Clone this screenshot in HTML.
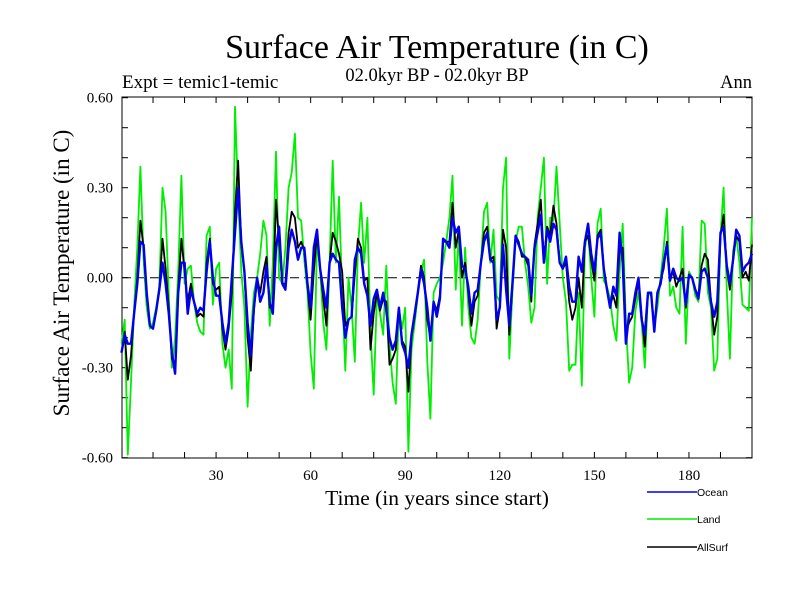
<!DOCTYPE html>
<html><head><meta charset="utf-8"><style>
body{margin:0;background:#fff;}
svg{display:block;font-family:"Liberation Serif",serif;}
</style></head><body>
<svg id="chart" width="800" height="600">
<rect width="800" height="600" fill="#fff"/>
<text x="437" y="58" font-size="34" text-anchor="middle">Surface Air Temperature (in C)</text>
<text x="122" y="88" font-size="19">Expt = temic1-temic</text>
<text x="437" y="81" font-size="18.5" text-anchor="middle">02.0kyr BP - 02.0kyr BP</text>
<text x="752" y="88" font-size="18.5" text-anchor="end">Ann</text>
<text transform="translate(69,273) rotate(-90)" font-size="23" text-anchor="middle">Surface Air Temperature (in C)</text>
<text x="437" y="505" font-size="21.5" text-anchor="middle">Time (in years since start)</text>
<g id="axes"></g>
<g id="series"></g>
<g id="legend"></g>
</svg>
<script>
const years = Array.from({length:201},(_, i)=>i);
const ocean = [-0.25,-0.19,-0.22,-0.22,-0.12,-0.02,0.12,0.11,-0.05,-0.16,-0.17,-0.11,-0.04,0.05,-0.02,-0.12,-0.25,-0.32,-0.05,0.05,0.05,-0.12,-0.04,-0.08,-0.12,-0.10,-0.11,0.02,0.12,0.0,-0.06,-0.06,-0.15,-0.22,-0.15,0.0,0.15,0.30,0.12,0.02,-0.15,-0.26,-0.10,0.0,-0.08,-0.05,0.04,-0.08,-0.12,0.10,0.17,
-0.02,-0.04,0.10,0.16,0.12,0.06,0.10,0.10,-0.02,-0.10,0.10,0.16,0.03,-0.04,-0.10,0.05,0.08,0.06,0.05,-0.10,-0.20,-0.14,-0.13,0.06,0.10,0.08,-0.02,-0.06,-0.16,-0.07,-0.04,-0.10,-0.05,-0.11,-0.20,-0.24,-0.21,-0.10,-0.22,-0.25,-0.30,-0.19,-0.12,-0.05,0.03,-0.02,-0.10,-0.21,-0.08,-0.13,-0.07,0.13,
0.12,0.10,0.20,0.15,0.17,0.04,0.03,-0.03,-0.12,-0.05,-0.04,0.05,0.12,0.15,0.06,0.05,-0.14,-0.10,0.11,-0.04,-0.16,-0.02,0.14,0.11,0.08,0.07,0.06,-0.06,0.10,0.15,0.21,0.05,0.16,0.12,0.18,0.16,0.05,0.03,0.07,-0.03,-0.08,-0.08,0.07,0.02,0.12,0.18,0.08,0.02,0.13,0.15,0.03,
-0.04,-0.10,-0.03,-0.06,0.15,0.05,-0.22,-0.12,-0.12,-0.05,0.0,-0.14,-0.19,-0.05,-0.05,-0.18,-0.05,-0.02,0.05,0.11,-0.01,0.03,0.0,-0.01,0.0,-0.09,0.01,0.0,-0.04,-0.07,0.02,0.03,0.0,-0.08,-0.13,-0.08,0.15,0.17,0.04,-0.02,0.06,0.16,0.14,0.02,0.04,0.05,0.08];
const land = [-0.22,-0.14,-0.59,-0.35,-0.10,0.10,0.37,0.06,-0.10,-0.17,-0.15,-0.10,-0.03,0.30,0.22,-0.06,-0.30,-0.20,0.02,0.34,-0.02,0.03,0.04,-0.08,-0.15,-0.18,-0.19,0.14,0.17,-0.09,0.03,0.05,-0.22,-0.30,-0.24,-0.37,0.57,0.28,0.02,-0.10,-0.43,-0.19,-0.05,0.0,0.08,0.19,0.14,-0.16,0.05,0.42,0.0,
-0.02,0.10,0.30,0.35,0.48,0.20,0.19,0.06,-0.05,-0.25,-0.37,0.12,0.03,-0.15,-0.24,0.05,0.39,0.05,0.27,-0.05,-0.31,0.0,-0.10,-0.28,0.10,0.25,0.05,0.20,-0.18,-0.39,-0.06,-0.12,-0.19,0.04,-0.22,-0.35,-0.42,-0.10,-0.17,-0.10,-0.58,-0.24,-0.15,-0.06,0.02,0.06,-0.28,-0.47,-0.05,-0.02,0.0,0.05,
0.12,0.20,0.34,-0.04,0.15,-0.16,0.10,-0.10,-0.20,-0.22,-0.14,0.05,0.22,0.25,0.05,0.16,-0.06,-0.08,0.30,0.40,-0.27,-0.05,0.12,0.17,0.17,0.05,-0.03,-0.15,-0.10,0.20,0.30,0.40,-0.02,0.20,0.19,0.37,0.18,0.0,-0.08,-0.31,-0.29,-0.29,-0.05,-0.36,0.10,0.16,0.0,-0.13,0.18,0.23,-0.01,
-0.03,-0.07,-0.16,-0.21,0.02,0.18,-0.15,-0.35,-0.30,-0.11,-0.05,-0.15,-0.30,-0.05,-0.06,-0.16,-0.10,0.0,0.10,0.23,-0.06,-0.03,-0.10,-0.12,0.17,-0.22,0.02,0.0,-0.06,-0.08,0.19,0.18,-0.05,-0.10,-0.31,-0.27,0.14,0.30,-0.04,-0.27,0.09,0.14,0.05,-0.09,-0.10,-0.11,0.20];
const allSurf = [-0.25,-0.18,-0.34,-0.26,-0.12,0.0,0.19,0.10,-0.06,-0.16,-0.17,-0.11,-0.04,0.13,0.03,-0.10,-0.27,-0.30,-0.04,0.13,0.02,-0.08,-0.02,-0.08,-0.13,-0.12,-0.13,0.05,0.13,-0.02,-0.04,-0.03,-0.17,-0.24,-0.17,-0.05,0.22,0.39,0.11,0.02,-0.20,-0.31,-0.11,0.0,-0.05,0.02,0.07,-0.10,-0.09,0.26,0.12,
-0.02,-0.02,0.15,0.22,0.20,0.10,0.12,0.09,-0.03,-0.14,0.02,0.15,0.03,-0.07,-0.16,0.05,0.15,0.12,0.08,0.02,-0.16,-0.14,-0.13,0.01,0.13,0.10,-0.01,0.0,-0.24,-0.12,-0.05,-0.11,-0.07,-0.08,-0.29,-0.27,-0.24,-0.10,-0.21,-0.23,-0.38,-0.20,-0.13,-0.05,0.04,0.0,-0.14,-0.20,-0.08,-0.11,-0.06,0.12,
0.12,0.12,0.25,0.10,0.16,0.0,0.05,-0.05,-0.16,-0.08,-0.06,0.05,0.15,0.17,0.06,0.07,-0.17,-0.10,0.16,0.10,-0.19,-0.03,0.14,0.12,0.07,0.07,0.04,-0.08,0.11,0.18,0.26,0.06,0.17,0.14,0.24,0.18,0.05,0.03,0.05,-0.08,-0.14,-0.10,0.0,-0.10,0.12,0.14,0.06,-0.01,0.14,0.16,0.03,
-0.04,-0.09,-0.06,-0.10,0.10,0.10,-0.18,-0.15,-0.13,-0.07,-0.01,-0.13,-0.23,-0.05,-0.05,-0.17,-0.06,-0.01,0.03,0.12,0.0,0.02,-0.03,0.0,0.03,-0.10,0.01,0.0,-0.04,-0.06,0.04,0.08,0.06,-0.08,-0.19,-0.13,0.14,0.21,0.03,-0.04,0.06,0.14,0.12,0.0,0.02,-0.01,0.11];
const yTicks = [-0.6,-0.5,-0.4,-0.3,-0.2,-0.1,0,0.1,0.2,0.3,0.4,0.5,0.6];
const yLabels = ["-0.60","-0.30","0.00","0.30","0.60"];
const xTicks = [10,20,30,40,50,60,70,80,90,100,110,120,130,140,150,160,170,180,190];
const xLabels = [30,60,90,120,150,180];

const L=122,R=752,T=97,B=458;
const xs = t => 121.5 + (t/200)*(752-121.5);
const ys = v => 277.7 - v*300;
const NS="http://www.w3.org/2000/svg";
function mk(tag, attrs, parent){const e=document.createElementNS(NS,tag);for(const k in attrs)e.setAttribute(k,attrs[k]);parent.appendChild(e);return e;}
const axes=document.getElementById('axes');
const frame=mk('rect',{x:L,y:T,width:R-L,height:B-T,fill:'none',stroke:'#000','stroke-width':1},axes);


const zl=mk('line',{x1:L,x2:R,y1:ys(0),y2:ys(0),stroke:'#000','stroke-dasharray':'9,5','stroke-width':1},axes);


yTicks.forEach(v=>{
  const y=ys(v);
  const a=mk('line',{x1:L,x2:L+6,y1:y,y2:y,stroke:'#000'},axes);
  
  
  const b=mk('line',{x1:R-6,x2:R,y1:y,y2:y,stroke:'#000'},axes);
  
  
});
yLabels.forEach(s=>{
  const t=mk('text',{x:113,y:ys(parseFloat(s))+5,'font-size':15,'text-anchor':'end'},axes);
  t.textContent=s;
  
  
});
xTicks.forEach(v=>{
  const x=xs(v);
  const a=mk('line',{x1:x,x2:x,y1:B,y2:B-6,stroke:'#000'},axes);
  
  
  const b=mk('line',{x1:x,x2:x,y1:T,y2:T+6,stroke:'#000'},axes);
  
  
});
xLabels.forEach(v=>{
  const t=mk('text',{x:xs(v),y:480,'font-size':15,'text-anchor':'middle'},axes);
  t.textContent=String(v);
  
  
});
const sg=document.getElementById('series');
function line(vals,color,w,name){
  const d=vals.map((v,i)=>(i?'L':'M')+xs(years[i]).toFixed(1)+','+ys(v).toFixed(1)).join('');
  const p=mk('path',{d:d,fill:'none',stroke:color,'stroke-width':w,'stroke-linejoin':'round'},sg);
  
  
}
line(land,'#00ee00',1.8,'land-line');
line(allSurf,'#000000',1.8,'allsurf-line');
line(ocean,'#0000ee',2.4,'ocean-line');
const lg=document.getElementById('legend');
[['Ocean','#0000ee',492],['Land','#00ee00',519],['AllSurf','#000',547]].forEach(([n,c,y])=>{
  const l=mk('line',{x1:647,x2:697,y1:y,y2:y,stroke:c,'stroke-width':1.5},lg);
  
  
  const t=mk('text',{x:697,y:y+4,'font-size':10.5,'font-family':'Liberation Sans, sans-serif'},lg);
  t.textContent=n;
  
  
});
</script>
</body></html>
